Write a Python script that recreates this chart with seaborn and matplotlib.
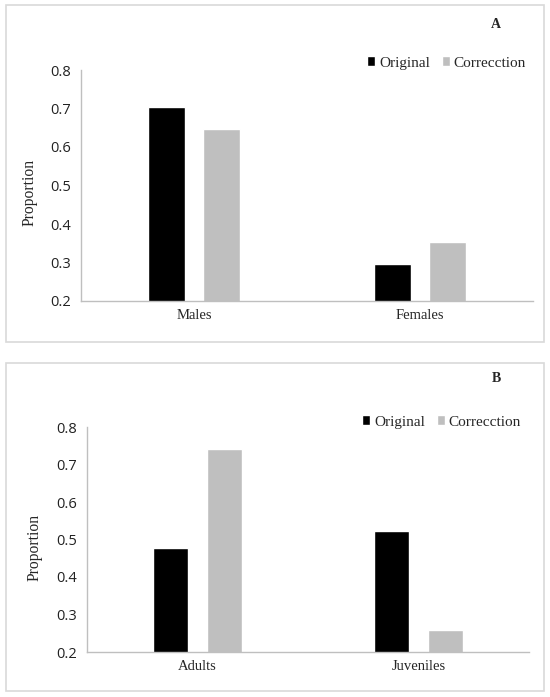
import pandas as pd
import matplotlib.pyplot as plt
import seaborn as sns
from matplotlib.patches import Rectangle
from matplotlib.ticker import FixedLocator

# data
groups_a = ['Males', 'Females']
original_a = [0.703, 0.297]
correction_a = [0.648, 0.352]

groups_b = ['Adults', 'Juveniles']
original_b = [0.478, 0.522]
correction_b = [0.742, 0.258]

series = ['Original', 'Correcction']
colors = ['#000000', '#bfbfbf']

W, H = 550, 697
sns.set_style('white')
plt.rcParams['font.family'] = ['Open Sans', 'DejaVu Sans']
serif = ['Liberation Serif', 'DejaVu Serif']


def make_df(groups, orig, corr):
    rows = []
    for g, o, c in zip(groups, orig, corr):
        rows.append({'group': g, 'series': series[0], 'value': o})
        rows.append({'group': g, 'series': series[1], 'value': c})
    return pd.DataFrame(rows)


def px_axes(fig, left, right, top, bottom):
    return fig.add_axes([left / W, 1 - bottom / H, (right - left) / W, (bottom - top) / H])


def panel(fig, df, box, ax_px, letter, letter_xy, leg_xy, ylab_xy):
    # light border round the panel
    x0, y0, x1, y1 = box
    fig.patches.append(Rectangle((x0 / W, 1 - y1 / H), (x1 - x0) / W, (y1 - y0) / H,
                                 transform=fig.transFigure, fill=False,
                                 edgecolor='#d9d9d9', linewidth=1.2))
    ax = px_axes(fig, *ax_px)
    sns.barplot(data=df, x='group', y='value', hue='series', palette=colors,
                width=0.488, gap=0.344, saturation=1, ax=ax, legend=True)
    ax.set_ylim(0.2, 0.8)
    ax.set_xlim(-0.5, 1.5)
    ax.set_yticks([0.2, 0.3, 0.4, 0.5, 0.6, 0.7, 0.8])
    ax.set_yticklabels([f'{v:.1f}' for v in ax.get_yticks()], fontsize=10.5, color='#222222')
    # category boundaries as major ticks, names as minor ticks
    ax.xaxis.set_major_locator(FixedLocator([-0.5, 0.5, 1.5]))
    ax.set_xticklabels(['', '', ''])
    ax.xaxis.set_minor_locator(FixedLocator([0, 1]))
    ax.set_xticklabels(list(df['group'].unique()), minor=True, family=serif, fontsize=10.5)
    ax.tick_params(axis='x', which='minor', length=0, pad=6)
    ax.tick_params(axis='both', which='major', length=5, width=1, color='#bfbfbf', direction='out')
    ax.tick_params(axis='y', pad=2)
    sns.despine(ax=ax)
    for s in ['left', 'bottom']:
        ax.spines[s].set_color('#bfbfbf')
        ax.spines[s].set_linewidth(1)
    ax.set_xlabel('')
    ax.set_ylabel('')
    fig.text(ylab_xy[0] / W, 1 - ylab_xy[1] / H, 'Proportion', rotation=90,
             ha='center', va='center', family=serif, fontsize=11.2)
    fig.text(letter_xy[0] / W, 1 - letter_xy[1] / H, letter, ha='center', va='center',
             family=serif, fontsize=10, fontweight='bold')
    h, l = ax.get_legend_handles_labels()
    ax.get_legend().remove()
    fig.legend(h, l, ncol=2, frameon=False, loc='center left',
               bbox_to_anchor=(leg_xy[0] / W, 1 - leg_xy[1] / H),
               prop={'family': serif, 'size': 11}, handlelength=0.55, handleheight=0.55,
               handletextpad=0.25, columnspacing=0.75, borderpad=0, borderaxespad=0)
    return ax


fig = plt.figure(figsize=(W / 100, H / 100), dpi=100)

panel(fig, make_df(groups_a, original_a, correction_a),
      box=(6, 5, 544, 342), ax_px=(81, 533, 70, 301),
      letter='A', letter_xy=(496, 24), leg_xy=(367, 63), ylab_xy=(30, 192))

panel(fig, make_df(groups_b, original_b, correction_b),
      box=(6, 363, 544, 691), ax_px=(87, 529, 427, 652),
      letter='B', letter_xy=(496, 379), leg_xy=(362, 422), ylab_xy=(35, 547))

fig.savefig('out.png', dpi=100)
